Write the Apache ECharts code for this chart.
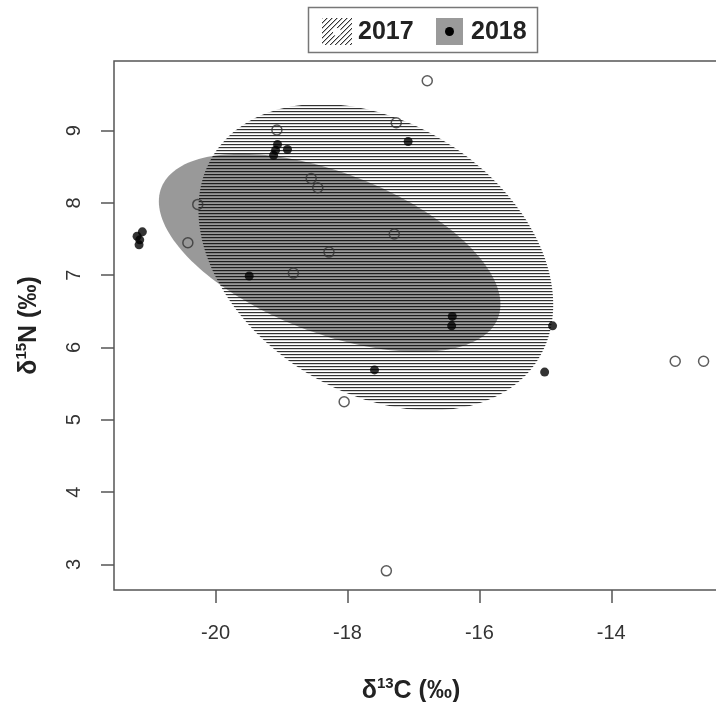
<!DOCTYPE html>
<html><head><meta charset="utf-8">
<script src="https://cdn.jsdelivr.net/npm/echarts@6/dist/echarts.min.js"></script>
<style>html,body{margin:0;padding:0;background:#fff}#c{width:716px;height:702px}</style>
</head><body><div id="c"></div>
<script>
// ---- data ----
const xTicks = [-20, -18, -16, -14];
const yTicks = [3, 4, 5, 6, 7, 8, 9];
const x2017 = [-16.79, -19.07, -17.26, -18.55, -18.45, -20.27, -20.42, -17.29, -18.28, -18.82, -18.05, -17.41, -13.03, -12.60];
const y2017 = [9.69, 9.01, 9.11, 8.34, 8.21, 7.98, 7.45, 7.57, 7.32, 7.03, 5.25, 2.91, 5.81, 5.81];
const x2018 = [-21.11, -21.19, -21.15, -21.16, -19.06, -19.09, -18.91, -19.12, -17.08, -19.49, -16.41, -16.42, -14.89, -15.01, -17.59];
const y2018 = [7.60, 7.54, 7.49, 7.42, 8.81, 8.73, 8.74, 8.66, 8.85, 6.99, 6.43, 6.30, 6.30, 5.66, 5.69];
// ellipses: centre, standard deviations, correlation
const ell2017Center = [-17.57, 7.25];
const ell2017Sd = [2.69, 2.12];
const ell2017Rho = -0.31;
const ell2018Center = [-18.27, 7.31];
const ell2018Sd = [2.59, 1.37];
const ell2018Rho = -0.52;

function ellipseOutline(c, sd, rho) {
  const pts = [];
  const n = 180;
  const k = Math.sqrt(1 - rho * rho);
  for (let i = 0; i < n; i++) {
    const t = 2 * Math.PI * i / n;
    pts.push([c[0] + sd[0] * Math.cos(t), c[1] + sd[1] * (rho * Math.cos(t) + k * Math.sin(t))]);
  }
  return pts;
}
const out2017 = ellipseOutline(ell2017Center, ell2017Sd, ell2017Rho);
const out2018 = ellipseOutline(ell2018Center, ell2018Sd, ell2018Rho);

// patterns
function hLinePattern() {
  const cv = document.createElement('canvas');
  cv.width = 6; cv.height = 3;
  const g = cv.getContext('2d');
  g.fillStyle = 'rgba(50,50,50,1)';
  g.fillRect(0, 0, 6, 1);
  g.fillStyle = 'rgba(50,50,50,0.2)';
  g.fillRect(0, 1, 6, 1);
  return { image: cv, repeat: 'repeat' };
}
function diagPattern() {
  const cv = document.createElement('canvas');
  cv.width = 5; cv.height = 5;
  const g = cv.getContext('2d');
  g.fillStyle = '#333';
  for (let i = 0; i < 5; i++) { g.fillRect(i, 4 - i, 1, 1); }
  g.fillStyle = 'rgba(51,51,51,0.35)';
  for (let i = 0; i < 5; i++) { g.fillRect((i + 1) % 5, 4 - i, 1, 1); }
  return { image: cv, repeat: 'repeat' };
}
const hatch = hLinePattern();
const diag = diagPattern();

const FONT = '"Liberation Sans", Arial, Helvetica, sans-serif';

const titleRich = {
  b: { fontSize: 25, fontWeight: 'bold', fontFamily: FONT, color: '#222', lineHeight: 30 },
  s: { fontSize: 15, fontWeight: 'bold', fontFamily: FONT, color: '#222', verticalAlign: 'top', lineHeight: 30, padding: [0, 0, 10, 0] }
};

const chart = echarts.init(document.getElementById('c'), null, { renderer: 'canvas' });
chart.setOption({
  animation: false,
  backgroundColor: '#fff',
  grid: { left: 114, top: 61, right: -10, bottom: 112, outerBoundsMode: 'none', containLabel: false, show: true, borderColor: '#555', borderWidth: 1.5, backgroundColor: 'transparent' },
  xAxis: {
    type: 'value', min: -21.54, max: -12.26,
    splitLine: { show: false },
    axisLine: { show: false },
    axisTick: { show: true, length: 13, customValues: xTicks, lineStyle: { color: '#555', width: 1.5 } },
    axisLabel: { customValues: xTicks, fontSize: 20, color: '#333', margin: 33, fontFamily: FONT },
    name: '{b|δ}{s|13}{b|C (‰)}',
    nameLocation: 'middle', nameGap: 86,
    nameTextStyle: { padding: [0, 18, 0, 0], rich: titleRich }
  },
  yAxis: {
    type: 'value', min: 2.645, max: 9.964,
    splitLine: { show: false },
    axisLine: { show: false },
    axisTick: { show: true, length: 13, customValues: yTicks, lineStyle: { color: '#555', width: 1.5 } },
    axisLabel: { customValues: yTicks, rotate: 90, fontSize: 20, color: '#333', margin: 30, fontFamily: FONT },
    name: '{b|δ}{s|15}{b|N (‰)}',
    nameLocation: 'middle', nameGap: 70,
    nameTextStyle: { rich: titleRich }
  },
  series: [
    {
      type: 'custom', name: 'ellipses', z: 1, silent: true, clip: true,
      data: [ell2017Center, ell2018Center],
      renderItem: function (params, api) {
        if (params.dataIndex === 0) {
          return { type: 'polygon', shape: { points: out2017.map(p => api.coord(p)) }, style: { fill: hatch, stroke: null } };
        }
        // translucent grey: hatch lines stay visible beneath it
        return { type: 'polygon', shape: { points: out2018.map(p => api.coord(p)) }, style: { fill: 'rgba(0,0,0,0.4)', stroke: null } };
      }
    },
    {
      type: 'scatter', name: '2017', z: 3, silent: true,
      symbol: 'circle', symbolSize: 10,
      itemStyle: { color: 'rgba(0,0,0,0)', borderColor: '#333', borderWidth: 1.5 },
      data: x2017.map((x, i) => [x, y2017[i]])
    },
    {
      type: 'scatter', name: '2018', z: 4, silent: true,
      symbol: 'circle', symbolSize: 9,
      itemStyle: { color: '#000' },
      data: x2018.map((x, i) => [x, y2018[i]])
    }
  ],
  graphic: [
    { type: 'rect', shape: { x: 308.5, y: 7.5, width: 229, height: 45 }, style: { fill: '#fff', stroke: '#777', lineWidth: 1.5 } },
    { type: 'rect', shape: { x: 322, y: 18, width: 30, height: 27 }, style: { fill: diag } },
    { type: 'circle', shape: { cx: 337, cy: 32, r: 4 }, style: { fill: '#fff' } },
    { type: 'text', x: 358, y: 32, style: { text: '2017', font: 'bold 25px ' + FONT, fill: '#222', verticalAlign: 'middle' } },
    { type: 'rect', shape: { x: 436, y: 18, width: 27, height: 27 }, style: { fill: '#9a9a9a' } },
    { type: 'circle', shape: { cx: 449.5, cy: 31.5, r: 4.5 }, style: { fill: '#000' } },
    { type: 'text', x: 471, y: 32, style: { text: '2018', font: 'bold 25px ' + FONT, fill: '#222', verticalAlign: 'middle' } }
  ]
});
</script>
</body></html>
